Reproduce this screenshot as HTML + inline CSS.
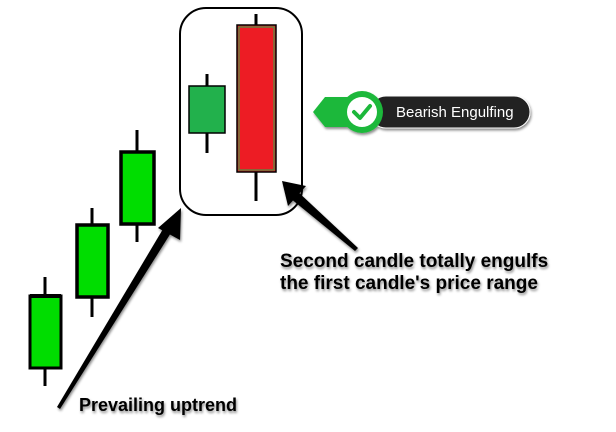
<!DOCTYPE html>
<html><head><style>
html,body{margin:0;padding:0;background:#fff;width:616px;height:432px;overflow:hidden}
svg{display:block}
text{font-family:"Liberation Sans",Arial,sans-serif;font-weight:bold}
</style></head><body>
<svg width="616" height="432" viewBox="0 0 616 432" xmlns="http://www.w3.org/2000/svg">
<defs>
<filter id="sh" x="-10%" y="-30%" width="130%" height="170%"><feDropShadow dx="1" dy="2" stdDeviation="1.2" flood-color="#000" flood-opacity="0.45"/></filter>
</defs>
<g stroke="#000">
<line x1="45" y1="277" x2="45" y2="386" stroke-width="3"/>
<rect x="30" y="296" width="31" height="72" fill="#00dd00" stroke-width="3"/>
<line x1="30" y1="296" x2="61" y2="296" stroke-width="4"/>
<line x1="92" y1="208" x2="92" y2="317" stroke-width="3"/>
<rect x="77" y="225" width="31" height="72" fill="#00dd00" stroke-width="3.5"/>
<line x1="137" y1="130" x2="137" y2="242" stroke-width="3"/>
<rect x="121" y="152" width="33" height="72" fill="#00dd00" stroke-width="3.5"/>
</g>
<rect x="180" y="8" width="122" height="207" rx="26" fill="none" stroke="#000" stroke-width="2"/>
<line x1="207" y1="74" x2="207" y2="153" stroke="#000" stroke-width="3"/>
<rect x="189" y="86" width="36" height="47" fill="#22b14c" stroke="#000" stroke-width="1.5"/>
<line x1="256" y1="14" x2="256" y2="201" stroke="#000" stroke-width="3"/>
<rect x="237" y="25" width="39" height="147" fill="#ed1c24" stroke="#000" stroke-width="1.5"/>
<rect x="239" y="27" width="35" height="143" fill="none" stroke="#22b14c" stroke-width="1"/>
<g filter="url(#sh)">
<polygon points="57,407 60,409 174,228 166,224" fill="#000"/>
<polygon points="181,208 158,228 180,240" fill="#000"/>
<polygon points="358,248 355,251 290,198 296,190" fill="#000"/>
<polygon points="282,181 288,206 306,186" fill="#000"/>
</g>
<g filter="url(#sh)">
<rect x="370" y="96" width="160" height="32" rx="16" fill="#222" stroke="#fff" stroke-width="1"/>
<polygon points="313,112 325,97 362,97 362,127 325,127" fill="#1db83a"/>
<circle cx="362" cy="112" r="21" fill="#1db83a"/>
<circle cx="362" cy="112" r="15" fill="#fff"/>
<polyline points="354,112 360,118 370,106" fill="none" stroke="#1db83a" stroke-width="4" stroke-linecap="round" stroke-linejoin="round"/>
</g>
<text x="396" y="117" fill="#fff" font-size="15" style="font-weight:normal">Bearish Engulfing</text>
<g filter="url(#sh)">
<text x="280" y="267" font-size="19" fill="#000">Second candle totally engulfs</text>
<text x="280" y="289" font-size="19" fill="#000">the first candle's price range</text>
<text x="79" y="411" font-size="18" fill="#000">Prevailing uptrend</text>
</g>
</svg>
</body></html>
